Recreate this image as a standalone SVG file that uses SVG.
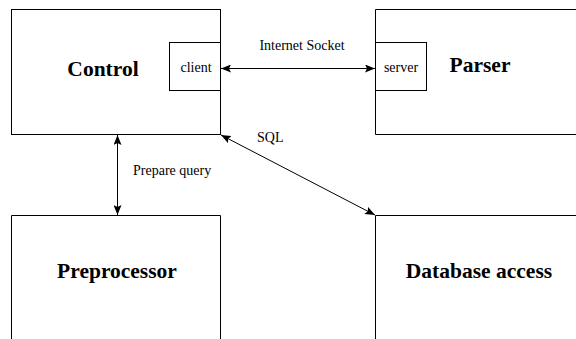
<svg xmlns="http://www.w3.org/2000/svg" width="576" height="339" viewBox="0 0 576 339">
<style>
.box{fill:none;stroke:#000;stroke-width:1}
.big{font-family:"Liberation Serif",serif;font-weight:bold;font-size:21.5px;text-anchor:middle}
.small{font-family:"Liberation Serif",serif;font-size:14px;text-anchor:middle}
.lbl{font-family:"Liberation Serif",serif;font-size:13px}
.conn{stroke:#000;stroke-width:1;fill:none;marker-start:url(#ah);marker-end:url(#ah)}
</style>
<defs>
<marker id="ah" viewBox="0 0 10 8" refX="10" refY="4" markerWidth="10" markerHeight="8" markerUnits="userSpaceOnUse" orient="auto-start-reverse">
<path d="M0,0 L10,4 L0,8 L2,4 Z" fill="#000"/>
</marker>
</defs>
<rect width="576" height="339" fill="#fff"/>
<g id="control">
<rect class="box" x="11.5" y="9.5" width="209" height="125"/>
<text class="big" x="103" y="76">Control</text>
</g>
<g id="client">
<rect class="box" x="169.5" y="42.5" width="51" height="48"/>
<text class="small" x="196" y="72">client</text>
</g>
<g id="parser">
<path class="box" d="M577,9.5 H375.5 V134.5 H577"/>
<text class="big" x="480" y="72">Parser</text>
</g>
<g id="server">
<rect class="box" x="375.5" y="42.5" width="51" height="48"/>
<text class="small" x="401" y="72">server</text>
</g>
<g id="preprocessor">
<path class="box" d="M11.5,340 V215.5 H220.5 V340"/>
<text class="big" x="117" y="278">Preprocessor</text>
</g>
<g id="database">
<path class="box" d="M375.5,340 V215.5 H577"/>
<text class="big" x="479" y="278">Database access</text>
</g>
<g id="connectors">
<line class="conn" x1="221" y1="68.5" x2="375" y2="68.5"/>
<text class="small" x="302" y="50">Internet Socket</text>
<line class="conn" x1="117.5" y1="135" x2="117.5" y2="215"/>
<text class="small" x="133" y="175" style="text-anchor:start">Prepare query</text>
<line class="conn" x1="221" y1="135" x2="375" y2="215"/>
<text class="small" x="257" y="142" style="text-anchor:start">SQL</text>
</g>
</svg>
